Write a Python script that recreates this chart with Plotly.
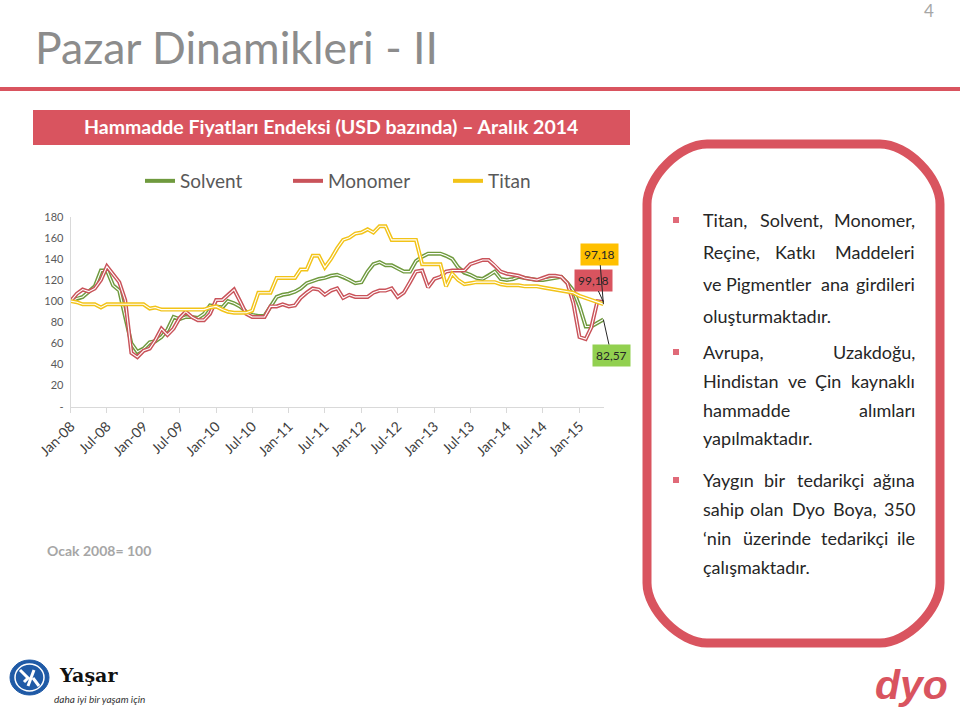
import pandas as pd
import plotly.graph_objects as go

W, H = 960, 707

# monthly index values, Jan-08 = 100
months = pd.date_range("2008-01-01", "2015-05-01", freq="MS")

solvent = [100, 102.6, 104, 109, 114, 129, 129, 115, 110, 85,
           60, 52, 55, 61, 62, 66, 73, 85, 83, 85,
           85, 84, 88, 96, 95, 94, 100, 98, 95, 90,
           87, 86, 86, 95, 104, 106, 107, 109, 112, 117,
           119, 121, 122, 124, 125, 123, 120, 117, 118, 128,
           135, 137, 134, 134, 131, 128, 128, 138, 142, 145,
           145, 145, 143, 140, 132, 127, 125, 122, 121, 124,
           128, 121, 120, 121, 123, 122, 121, 120, 120, 121,
           122, 123, 117, 110, 95, 76, 76, 79, 82.57]

monomer = [100, 107, 111, 109, 112, 120, 133, 125, 118, 101,
           51, 47, 53, 55, 63, 74, 68, 74, 84, 90,
           85, 82, 82, 88, 101, 101, 106, 111, 100, 88,
           85, 85, 85, 95, 95, 97, 95, 96, 103, 108,
           112, 111, 106, 110, 112, 103, 106, 104, 104, 104,
           108, 110, 110, 112, 104, 108, 118, 128, 129, 113,
           121, 123, 128, 129, 129, 129, 135, 137, 139, 139,
           134, 128, 126, 125, 124, 122, 121, 120, 122, 124,
           124, 123, 117, 98, 66, 64, 75, 100, 99.18]

titan = [100, 99, 97, 97, 97, 94, 97, 97, 97, 97,
         97, 97, 97, 93, 94, 92, 92, 92, 92, 92,
         92, 92, 92, 94, 95, 92, 90, 89, 89, 89,
         91, 108, 108, 108, 122, 122, 122, 122, 130, 130,
         143, 143, 132, 140, 150, 158, 160, 164, 165, 168,
         165, 171, 171, 158, 158, 158, 158, 158, 135, 135,
         135, 135, 114, 126, 120, 116, 117, 118, 118, 118,
         118, 116, 115, 115, 115, 114, 114, 114, 113, 112,
         111, 110, 109, 108, 105, 103, 101, 99, 97.18]

series_names = ["Solvent", "Monomer", "Titan"]
series_colors = ["#6f9a3e", "#c9535a", "#f2c318"]
series_legend = ["legend", "legend", "legend2"]
label_fill = ["#92d050", "#d9545f", "#ffc000"]
label_text = ["82,57", "99,18", "97,18"]

tick_dates = pd.date_range("2008-01-01", "2015-01-01", freq="6MS")
tick_labels = [d.strftime("%b-%y") for d in tick_dates]
y_ticks = list(range(0, 181, 20))
y_tick_text = ["-"] + [str(v) for v in y_ticks[1:]]

RED = "#d9545f"
GREY = "#595959"


def px(x):
    return x / W


def py(y):
    return 1 - y / H


fig = go.Figure()

# double lines: coloured stroke with a thin white core
for name, vals, col, lg in zip(series_names, [solvent, monomer, titan], series_colors, series_legend):
    fig.add_trace(go.Scatter(x=months, y=vals, name=name, mode="lines", legend=lg,
                             line=dict(color=col, width=4)))
    fig.add_trace(go.Scatter(x=months, y=vals, mode="lines", showlegend=False,
                             hoverinfo="skip", line=dict(color="white", width=1.1)))

fig.update_xaxes(
    domain=[px(70.7), px(604)], automargin=False,
    range=[months[0], months[-1] + pd.Timedelta(days=3)],
    tickvals=tick_dates, ticktext=tick_labels, tickangle=-45,
    tickfont=dict(family="Lato", size=14, color="#404040"),
    showline=True, linecolor="#d9d9d9", linewidth=1,
    ticks="outside", ticklen=5, tickcolor="#d9d9d9",
    showgrid=False, zeroline=False,
)
fig.update_yaxes(
    domain=[py(406.7), py(216.7)], automargin=False,
    range=[0, 180], tickvals=y_ticks, ticktext=y_tick_text,
    tickfont=dict(family="Lato", size=11, color=GREY),
    showline=True, linecolor="#d9d9d9", linewidth=1,
    showgrid=False, zeroline=False, ticks="", ticklabelstandoff=4,
)

# end-of-series data labels
offsets = [(8, 36), (-10, -22), (-4, -50)]
for vals, fill, txt, (ax, ay) in zip([solvent, monomer, titan], label_fill, label_text, offsets):
    fig.add_annotation(x=months[-1], y=vals[-1], text=txt, showarrow=True,
                       arrowhead=0, arrowwidth=1, arrowcolor="#262626",
                       ax=ax, ay=ay, bgcolor=fill, borderpad=3,
                       font=dict(family="Lato", size=12, color="#262626"))

shapes = []
# red rule under the title
shapes.append(dict(type="line", xref="paper", yref="paper",
                   x0=0, x1=1, y0=py(89), y1=py(89),
                   line=dict(color=RED, width=4)))
# banner
shapes.append(dict(type="rect", xref="paper", yref="paper",
                   x0=px(33), x1=px(630), y0=py(145), y1=py(110),
                   fillcolor=RED, line=dict(width=0)))

# rounded frame on the right
L, R, T, B, r = 647, 940, 144, 643, 60
k = 0.45 * r
pts = [
    f"M {px(L + r)},{py(T)}",
    f"L {px(R - r)},{py(T)}",
    f"C {px(R - r + k)},{py(T)} {px(R)},{py(T + r - k)} {px(R)},{py(T + r)}",
    f"L {px(R)},{py(B - r)}",
    f"C {px(R)},{py(B - r + k)} {px(R - r + k)},{py(B)} {px(R - r)},{py(B)}",
    f"L {px(L + r)},{py(B)}",
    f"C {px(L + r - k)},{py(B)} {px(L)},{py(B - r + k)} {px(L)},{py(B - r)}",
    f"L {px(L)},{py(T + r)}",
    f"C {px(L)},{py(T + r - k)} {px(L + r - k)},{py(T)} {px(L + r)},{py(T)} Z",
]
shapes.append(dict(type="path", xref="paper", yref="paper", path=" ".join(pts),
                   line=dict(color=RED, width=9)))

# bullets
for by in [220, 352, 480]:
    shapes.append(dict(type="rect", xref="paper", yref="paper",
                       x0=px(673), x1=px(679), y0=py(by + 3), y1=py(by - 3),
                       fillcolor="#e06a78", line=dict(width=0)))

# Yasar logo mark
shapes.append(dict(type="circle", xref="paper", yref="paper",
                   x0=px(10), x1=px(49), y0=py(695), y1=py(660),
                   fillcolor="#1f5aa6", line=dict(color="#1f5aa6", width=1)))
shapes.append(dict(type="circle", xref="paper", yref="paper",
                   x0=px(15), x1=px(44), y0=py(691), y1=py(664),
                   fillcolor="rgba(0,0,0,0)", line=dict(color="white", width=1.5)))
shapes.append(dict(type="path", xref="paper", yref="paper",
                   path=f"M {px(20)},{py(670)} L {px(28)},{py(678)} L {px(24)},{py(682)} "
                        f"M {px(28)},{py(686)} L {px(34)},{py(670)} M {px(33)},{py(678)} L {px(39)},{py(686)}",
                   line=dict(color="white", width=3)))

ann = []


def txt(x, y, s, size, color, xanchor="left", family="Lato", bold=False, italic=False):
    ann.append(dict(x=px(x), y=py(y), xref="paper", yref="paper", text=s,
                    showarrow=False, xanchor=xanchor, yanchor="middle",
                    font=dict(family=family, size=size, color=color,
                              weight="bold" if bold else "normal",
                              style="italic" if italic else "normal")))


txt(33, 46, "Pazar Dinamikleri - II", 44.5, "#8c8c8c")
txt(929, 10, "4", 17, "#a6a6a6", xanchor="center")
txt(331, 127, "Hammadde Fiyatları Endeksi (USD bazında) – Aralık 2014", 19.5, "white",
    xanchor="center", bold=True)
txt(45, 550, "Ocak 2008= 100", 14, "#a6a6a6", bold=True)

# right panel text, justified word by word (first word left, last word right,
# inner words centred so the gaps come out even)
TL, TR = 701, 917
body = "#262626"
fs = 18
lines = [
    (220, ["Titan,", "Solvent,", "Monomer,"], [791]),
    (252, ["Reçine,", "Katkı", "Maddeleri"], [795]),
    (284, ["ve", "Pigmentler", "ana", "girdileri"], [769, 835]),
    (316, ["oluşturmaktadır."], []),
    (352, ["Avrupa,", "Uzakdoğu,"], []),
    (381, ["Hindistan", "ve", "Çin", "kaynaklı"], [797, 828]),
    (410, ["hammadde", "alımları"], []),
    (438, ["yapılmaktadır."], []),
    (480, ["Yaygın", "bir", "tedarikçi", "ağına"], [774, 830]),
    (509, ["sahip", "olan", "Dyo", "Boya,", "350"], [766, 808, 855]),
    (538, ["‘nin", "üzerinde", "tedarikçi", "ile"], [777, 854]),
    (567, ["çalışmaktadır."], []),
]
for y, words, mids in lines:
    txt(TL, y, words[0], fs, body)
    if len(words) > 1:
        for w, cx in zip(words[1:-1], mids):
            txt(cx, y, w, fs, body, xanchor="center")
        txt(TR, y, words[-1], fs, body, xanchor="right")

# logos
txt(57, 675, "Yaşar", 19, "#111111", family="DejaVu Serif", bold=True)
txt(52, 699, "daha iyi bir yaşam için", 10, "#333333", italic=True)
txt(911, 685, "dyo", 41, RED, xanchor="center", family="Liberation Sans", bold=True, italic=True)

legend_style = dict(orientation="h", y=py(181), xanchor="left", yanchor="middle",
                    entrywidth=103, entrywidthmode="pixels", itemwidth=30,
                    font=dict(family="Lato", size=19, color=GREY),
                    bgcolor="rgba(0,0,0,0)")

fig.update_layout(
    width=W, height=H,
    margin=dict(l=0, r=0, t=0, b=0, autoexpand=False),
    paper_bgcolor="white", plot_bgcolor="white",
    shapes=shapes, annotations=list(fig.layout.annotations) + ann,
    legend=dict(x=px(140), **legend_style),
    legend2=dict(x=px(448), **legend_style),
    showlegend=True,
)

fig.write_html("out.html", config={"displayModeBar": False},
               post_script="document.body.style.margin='0px';")
